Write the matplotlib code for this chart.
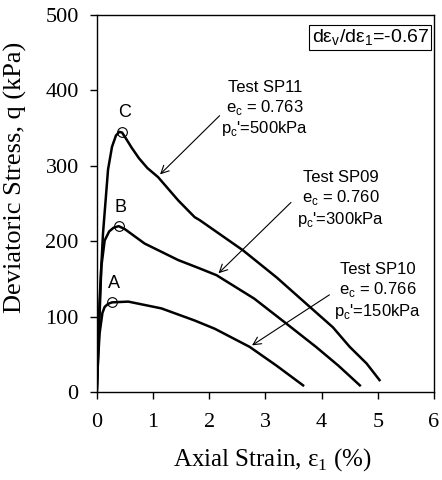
import matplotlib
matplotlib.use("Agg")
import matplotlib.pyplot as plt

# SP11 (C), SP09 (B), SP10 (A): axial strain (%) vs deviatoric stress (kPa)
x_sp11 = [0, 0.02, 0.05, 0.11, 0.20, 0.27, 0.34, 0.40, 0.45, 0.52, 0.62, 0.75,
          0.90, 1.09, 1.45, 1.74, 1.83, 2.10, 2.60, 3.20, 3.79, 4.20, 4.50,
          4.80, 5.03]
q_sp11 = [0, 60, 122, 210, 295, 325, 340, 345, 344, 336, 324, 310,
          297, 285, 254, 232, 228, 214, 188, 152, 113, 86, 60,
          38, 16]

x_sp09 = [0, 0.03, 0.08, 0.14, 0.22, 0.30, 0.39, 0.50, 0.85, 1.45, 1.83, 2.13,
          2.80, 3.37, 3.90, 4.30, 4.68]
q_sp09 = [0, 60, 166, 201, 213, 218, 220, 216, 197, 175, 164, 155,
          124, 91, 60, 35, 9]

x_sp10 = [0, 0.02, 0.05, 0.10, 0.14, 0.20, 0.27, 0.56, 1.15, 1.74, 2.10, 2.72,
          3.20, 3.67]
q_sp10 = [0, 40, 78, 105, 113, 117, 119, 120, 111, 95, 84, 60, 35, 9]

peaks_x = [0.45, 0.39, 0.27]
peaks_q = [345, 220, 119]
peak_names = ["C", "B", "A"]

tests = ["Test SP11", "Test SP09", "Test SP10"]
e_c = ["0.763", "0.760", "0.766"]
p_c = ["500kPa", "300kPa", "150kPa"]

serif = "Liberation Serif"
sans = "Liberation Sans"

fig = plt.figure(figsize=(4.42, 4.80), dpi=100)
ax = fig.add_axes([0.219, 0.183, 0.763, 0.786])

for xs, qs in [(x_sp11, q_sp11), (x_sp09, q_sp09), (x_sp10, q_sp10)]:
    ax.plot(xs, qs, color="black", lw=1.8)

ax.plot(peaks_x, peaks_q, "o", mfc="none", mec="black", ms=7, mew=0.8)
for px, pq, name in zip(peaks_x, peaks_q, peak_names):
    ax.text(px + 0.04, pq + 14, name, family=sans, fontsize=13,
            ha="center", va="bottom")

# annotations: text position (centre, top) and arrow tail/tip
text_pos = [(2.99, 414), (4.34, 294), (5.0, 172)]
arrow_tail = [(2.22, 369), (3.49, 254), (4.18, 131)]
arrow_tip = [(1.09, 286), (2.13, 155), (2.72, 60)]

for i in range(3):
    label = (tests[i] + "\n"
             + "e$_\\mathregular{c}$ = " + e_c[i] + "\n"
             + "p$_\\mathregular{c}$'=" + p_c[i])
    ax.text(text_pos[i][0], text_pos[i][1], label, family=sans, fontsize=12,
            ha="center", va="top", linespacing=1.2)
    ax.annotate("", xy=arrow_tip[i], xytext=arrow_tail[i],
                arrowprops=dict(arrowstyle="->", color="black", lw=0.8,
                                mutation_scale=14))

ax.text(0.985, 0.967, "d\u03b5$_\\mathregular{v}$/d\u03b5$_\\mathregular{1}$=-0.67",
        transform=ax.transAxes, family=sans, fontsize=14, ha="right", va="top",
        bbox=dict(boxstyle="square,pad=0.12", fc="white", ec="black", lw=0.8))

ax.set_xlim(0, 6)
ax.set_ylim(0, 500)
ax.set_xticks(range(0, 7))
ax.set_yticks(range(0, 501, 100))
ax.tick_params(direction="out", length=5, width=1, labelsize=16)
ax.tick_params(axis="x", pad=10)
ax.tick_params(axis="y", pad=8)
for lab in ax.get_xticklabels() + ax.get_yticklabels():
    lab.set_family(serif)
for s in ax.spines.values():
    s.set_linewidth(1.0)

ax.set_xlabel("Axial Strain, \u03b5$_\\mathregular{1}$ (%)", family=serif,
              fontsize=18, va="center")
ax.set_ylabel("Deviatoric Stress, q (kPa)", family=serif, fontsize=19,
              va="center")
ax.xaxis.set_label_coords(0.52, -0.18)
ax.yaxis.set_label_coords(-0.24, 0.57)

fig.savefig("out.png", dpi=100)
